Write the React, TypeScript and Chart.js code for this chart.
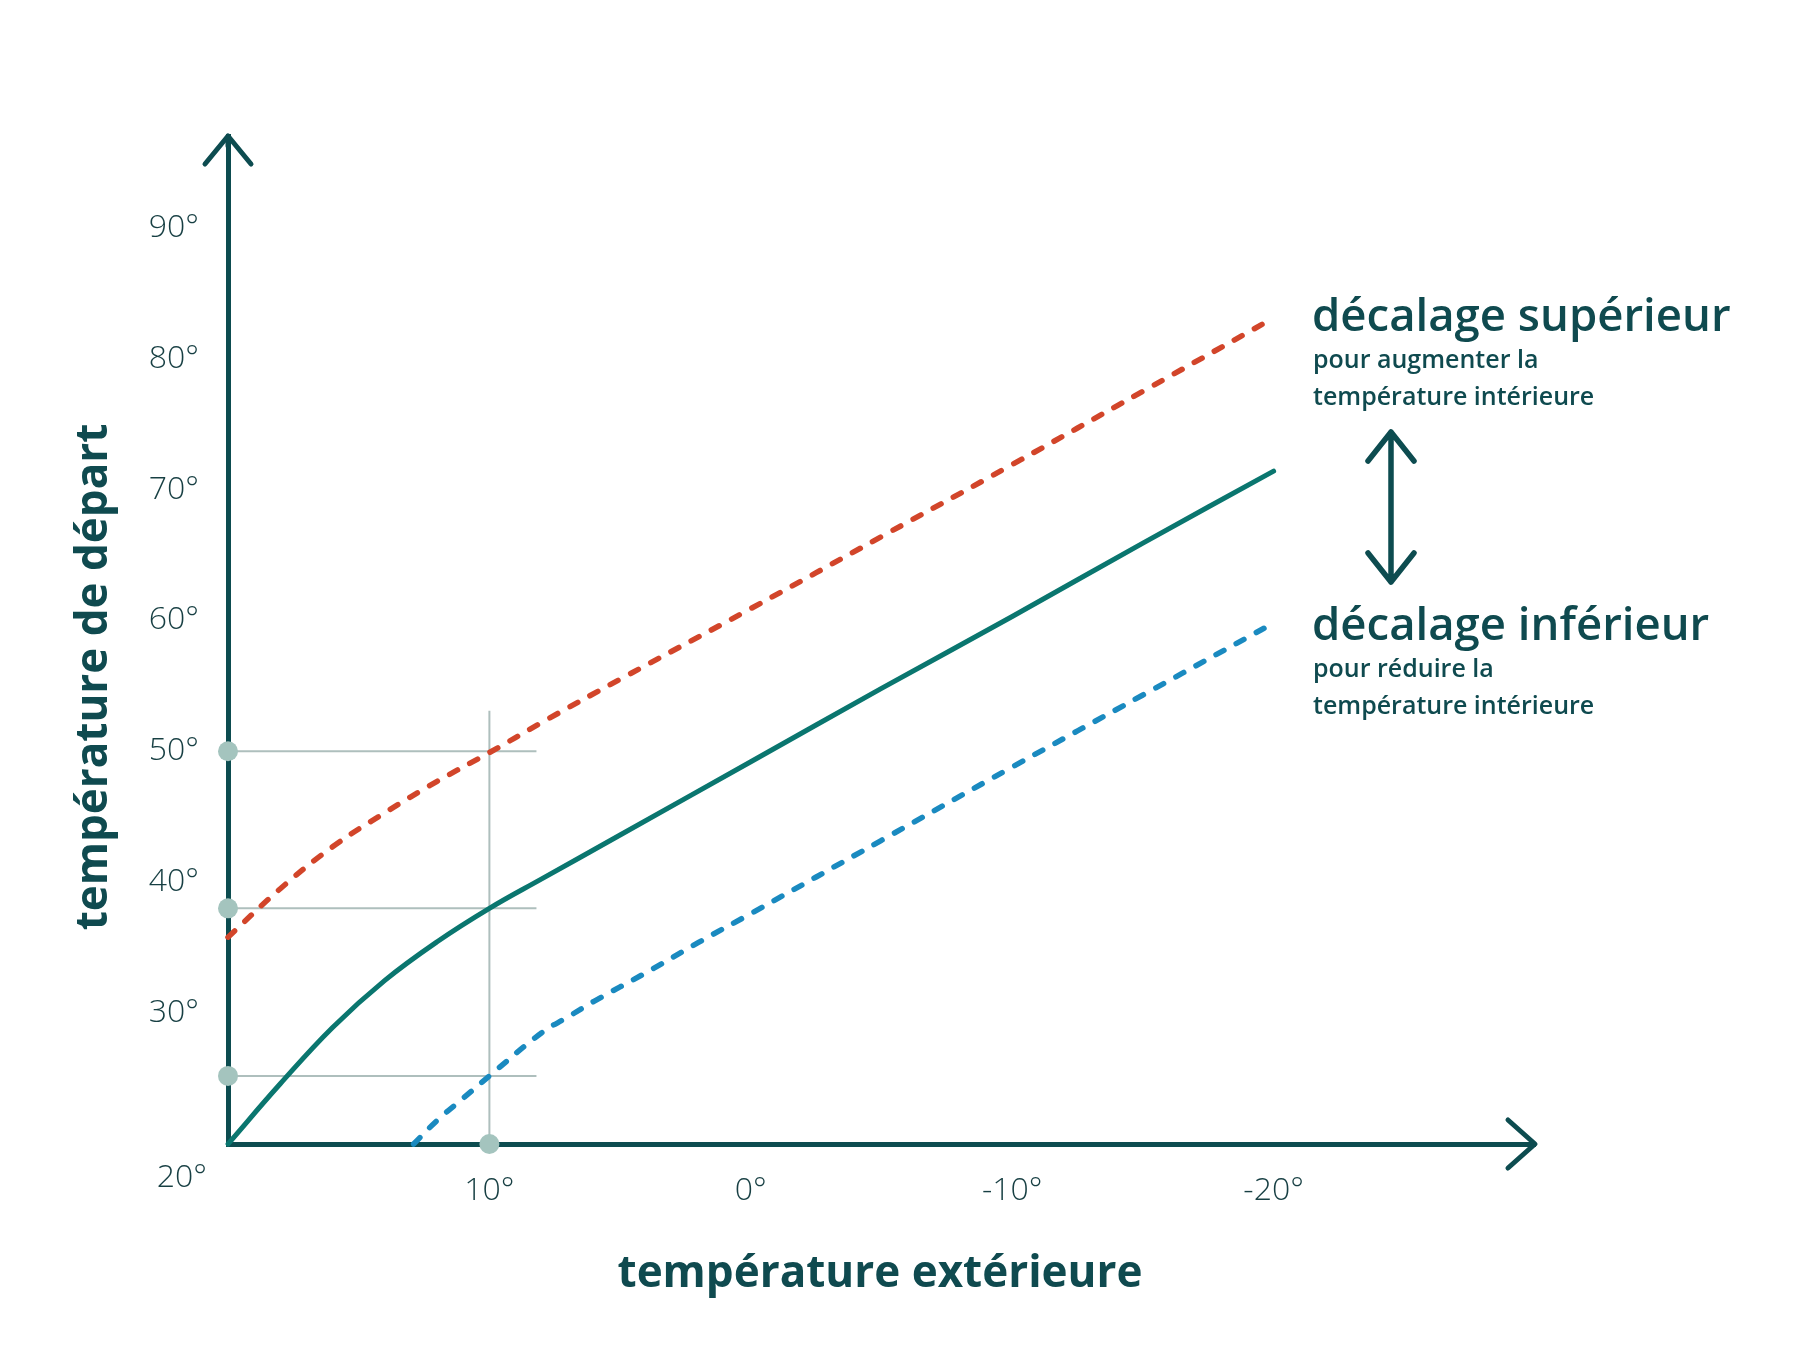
import React, { useEffect, useRef } from "react";
import { Chart, registerables } from "chart.js";

Chart.register(...registerables);

// ---- data ----
const outdoorTemps = [20, 18, 16, 14, 12, 10, 8, 5, 0, -5, -10, -15, -20];
const baseCurve = [20, 24.6, 28.9, 32.5, 35.45, 38.0, 40.25, 43.6, 49.2, 54.8, 60.3, 65.9, 71.4];
const upperCurve = [35.8, 39.5, 42.7, 45.3, 47.7, 49.9, 52.2, 55.5, 60.9, 66.4, 71.9, 77.5, 83.1];
const lowerTemps = [12.9, 12, 11, 10, 8, 7, 6, 4, 2, 0, -5, -10, -15, -20];
const lowerCurve = [20, 21.8, 23.5, 25.2, 28.5, 29.7, 30.9, 33.1, 35.4, 37.6, 43.2, 48.8, 54.3, 59.8];

const xTickValues = [10, 0, -10, -20];
const yTickValues = [30, 40, 50, 60, 70, 80, 90];
const originLabel = "20°";

const guideLevels = [50, 38, 25.2];
const guideFromX = 20;
const guideToX = 8.2;
const guideVerticalX = 10;
const guideVerticalTop = 53.1;

const xMin = -30;
const xMax = 20;
const yMin = 20;
const yMax = 97;

const yTitle = "température de départ";
const xTitle = "température extérieure";
const upperTitle = "décalage supérieur";
const upperSub = ["pour augmenter la", "température intérieure"];
const lowerTitle = "décalage inférieur";
const lowerSub = ["pour réduire la", "température intérieure"];

// ---- styles ----
const AXIS = "#0d4c50";
const TEXT = "#0f4a4f";
const TICK = "#173f43";
const TEAL = "#0a766f";
const RED = "#d2452a";
const BLUE = "#1a8ac0";
const GUIDE = "#aebfbd";
const DOT = "#a4c4be";

const annotationPlugin = {
  id: "annotations",
  afterDraw(chart: any) {
    const { ctx } = chart;
    const xs = chart.scales.x;
    const ys = chart.scales.y;
    const x0 = xs.getPixelForValue(xMax);
    const y0 = ys.getPixelForValue(yMin);
    const xEnd = xs.getPixelForValue(xMin);
    const yEnd = ys.getPixelForValue(yMax);
    ctx.save();
    ctx.strokeStyle = AXIS;
    ctx.lineWidth = 5;
    ctx.lineCap = "round";
    ctx.lineJoin = "round";
    // y axis arrow head
    ctx.beginPath();
    ctx.moveTo(x0 - 23, yEnd + 28);
    ctx.lineTo(x0, yEnd);
    ctx.lineTo(x0 + 23, yEnd + 28);
    ctx.stroke();
    ctx.beginPath();
    ctx.moveTo(x0, yEnd + 2);
    ctx.lineTo(x0, yEnd + 10);
    ctx.stroke();
    // x axis arrow head
    ctx.beginPath();
    ctx.moveTo(xEnd - 27, y0 - 24);
    ctx.lineTo(xEnd, y0);
    ctx.lineTo(xEnd - 27, y0 + 24);
    ctx.stroke();

    // double arrow
    const ax = 1391;
    const aTop = 432;
    const aBot = 582;
    ctx.lineWidth = 5.5;
    ctx.beginPath();
    ctx.moveTo(ax, aTop);
    ctx.lineTo(ax, aBot);
    ctx.moveTo(ax - 23, aTop + 29);
    ctx.lineTo(ax, aTop);
    ctx.lineTo(ax + 23, aTop + 29);
    ctx.moveTo(ax - 23, aBot - 29);
    ctx.lineTo(ax, aBot);
    ctx.lineTo(ax + 23, aBot - 29);
    ctx.stroke();

    // origin label
    ctx.fillStyle = TICK;
    ctx.font = '300 32px "Open Sans"';
    ctx.textAlign = "right";
    ctx.textBaseline = "middle";
    ctx.fillText(originLabel, x0 - 21, 1178);

    // axis titles
    ctx.fillStyle = TEXT;
    ctx.font = '700 44px "Open Sans"';
    ctx.textAlign = "center";
    ctx.textBaseline = "alphabetic";
    ctx.fillText(xTitle, 880, 1287);
    ctx.save();
    ctx.translate(107, 677);
    ctx.rotate(-Math.PI / 2);
    ctx.fillText(yTitle, 0, 0);
    ctx.restore();

    // side labels
    ctx.textAlign = "left";
    ctx.font = '600 45.5px "Open Sans"';
    ctx.fillText(upperTitle, 1312, 331);
    ctx.fillText(lowerTitle, 1312, 640);
    ctx.font = '600 25px "Open Sans"';
    ctx.fillText(upperSub[0], 1313, 368);
    ctx.fillText(upperSub[1], 1313, 405);
    ctx.fillText(lowerSub[0], 1313, 677);
    ctx.fillText(lowerSub[1], 1313, 714);
    ctx.restore();
  },
};

export default function App() {
  const canvasRef = useRef<HTMLCanvasElement | null>(null);

  useEffect(() => {
    const canvas = canvasRef.current;
    if (!canvas) return;

    const toPoints = (xsArr: number[], ysArr: number[]) =>
      xsArr.map((x, i) => ({ x, y: ysArr[i] }));

    const guideSets = guideLevels.map((lvl) => ({
      label: "guide " + lvl,
      data: [
        { x: guideFromX, y: lvl },
        { x: guideToX, y: lvl },
      ],
      borderColor: GUIDE,
      borderWidth: 2,
      pointRadius: 0,
      tension: 0,
      order: 5,
    }));

    const curveStyle = {
      borderWidth: 5.5,
      borderCapStyle: "round",
      pointRadius: 0,
      tension: 0.4,
      clip: 20,
      order: 2,
    };

    const chart = new Chart(canvas, {
      type: "line",
      data: {
        datasets: [
          ...guideSets,
          {
            label: "guide vertical",
            data: [
              { x: guideVerticalX, y: yMin },
              { x: guideVerticalX, y: guideVerticalTop },
            ],
            borderColor: GUIDE,
            borderWidth: 2,
            pointRadius: 0,
            tension: 0,
            order: 5,
          },
          {
            ...curveStyle,
            label: "décalage supérieur",
            data: toPoints(outdoorTemps, upperCurve),
            borderColor: RED,
            borderDash: [9, 14],
          },
          {
            ...curveStyle,
            label: "courbe de chauffe",
            data: toPoints(outdoorTemps, baseCurve),
            borderColor: TEAL,
            borderWidth: 5,
          },
          {
            ...curveStyle,
            label: "décalage inférieur",
            data: toPoints(lowerTemps, lowerCurve),
            borderColor: BLUE,
            borderDash: [9, 14],
          },
          {
            label: "repères",
            data: [
              ...guideLevels.map((lvl) => ({ x: guideFromX, y: lvl })),
              { x: guideVerticalX, y: yMin },
            ],
            showLine: false,
            pointRadius: 10,
            pointBackgroundColor: DOT,
            pointBorderWidth: 0,
            clip: 20,
            order: 1,
          },
        ] as any,
      },
      options: {
        responsive: false,
        maintainAspectRatio: false,
        devicePixelRatio: 1,
        animation: false,
        layout: { padding: { left: 0, top: 136, right: 265, bottom: 0 } },
        plugins: { legend: { display: false }, tooltip: { enabled: false } },
        scales: {
          x: {
            type: "linear",
            min: xMin,
            max: xMax,
            reverse: true,
            grid: { display: false },
            border: { display: true, color: AXIS, width: 5 },
            afterBuildTicks: (s: any) => {
              s.ticks = xTickValues.map((v) => ({ value: v }));
            },
            afterFit: (s: any) => {
              s.height = 1350 - 1144;
            },
            ticks: {
              callback: (v: any) => `${v}°`,
              color: TICK,
              font: { family: "Open Sans", size: 32, weight: "300" },
              padding: 20,
              maxRotation: 0,
              autoSkip: false,
            },
          },
          y: {
            type: "linear",
            min: yMin,
            max: yMax,
            grid: { display: false },
            border: { display: true, color: AXIS, width: 5 },
            afterBuildTicks: (s: any) => {
              s.ticks = yTickValues.map((v) => ({ value: v }));
            },
            afterFit: (s: any) => {
              s.width = 228;
            },
            ticks: {
              callback: (v: any) => `${v}°`,
              color: TICK,
              font: { family: "Open Sans", size: 32, weight: "300" },
              padding: 21,
              autoSkip: false,
            },
          },
        },
      } as any,
      plugins: [annotationPlugin],
    });

    return () => chart.destroy();
  }, []);

  return (
    <div
      style={{
        position: "absolute",
        left: 0,
        top: 0,
        width: 1800,
        height: 1350,
        background: "#ffffff",
      }}
    >
      <canvas ref={canvasRef} width={1800} height={1350} style={{ display: "block" }} />
    </div>
  );
}
